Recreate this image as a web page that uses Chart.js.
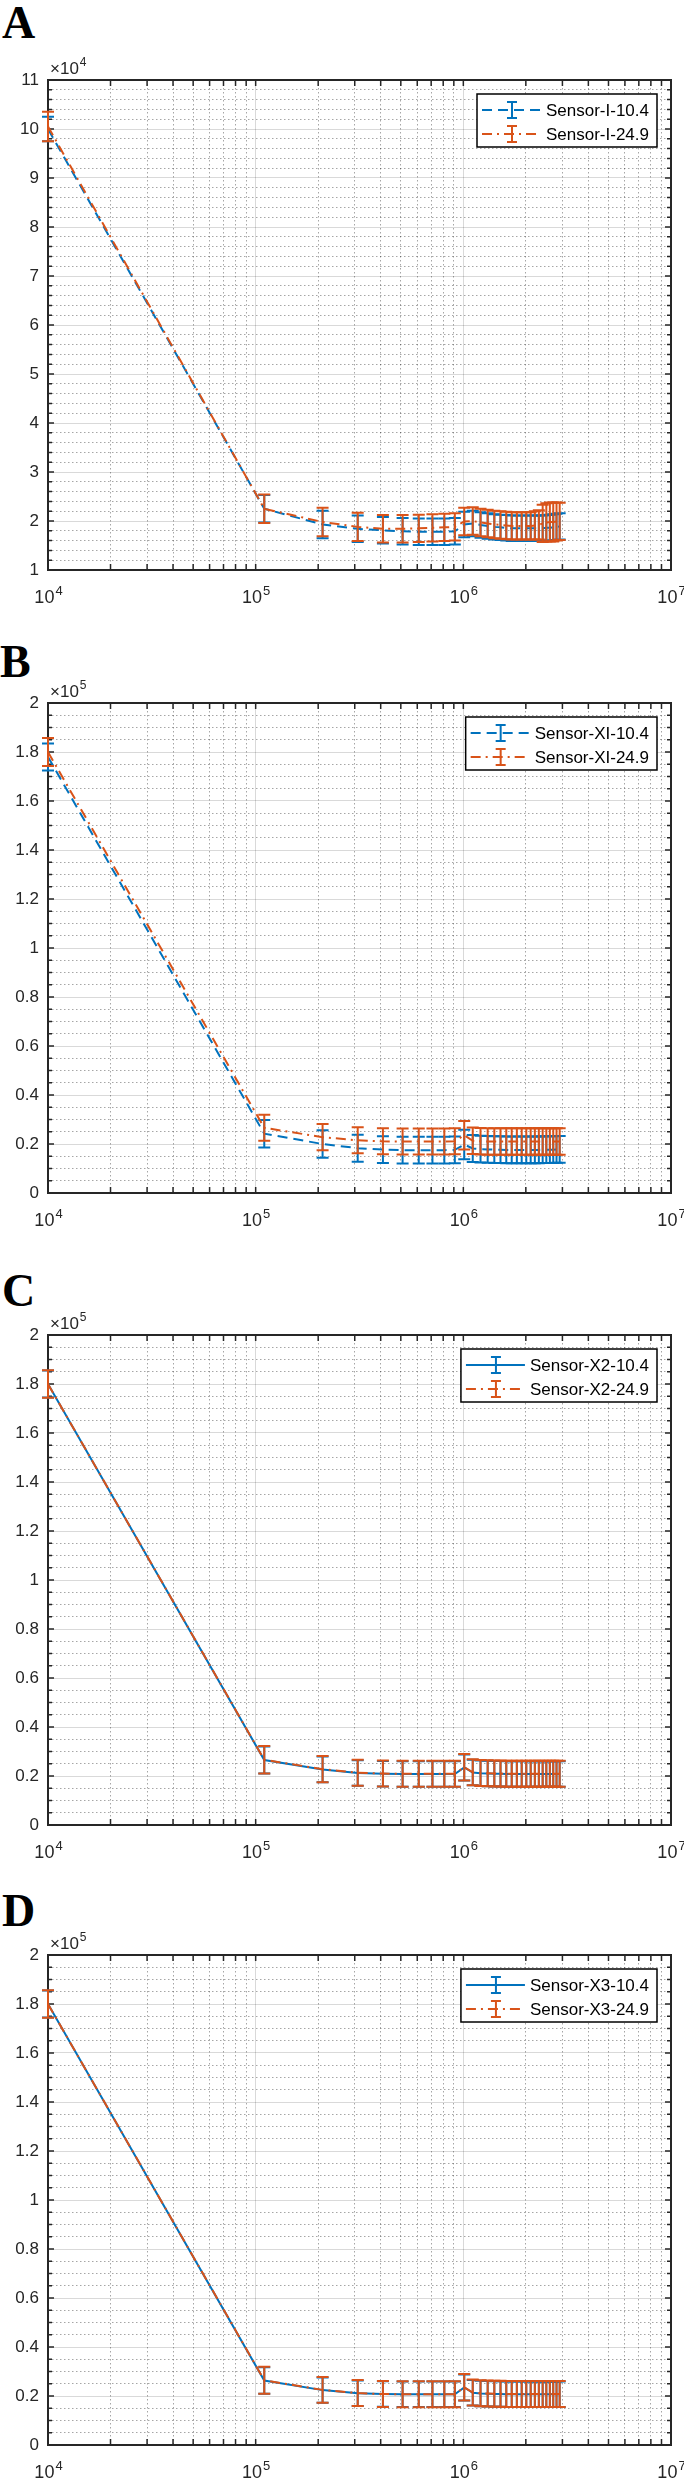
<!DOCTYPE html>
<html>
<head>
<meta charset="utf-8">
<script src="https://cdn.jsdelivr.net/npm/chart.js@4.4.1/dist/chart.umd.min.js"></script>
<style>
html, body { margin: 0; padding: 0; background: #fff; }
#page { position: relative; width: 684px; height: 2480px; overflow: hidden; }
.panel { position: absolute; left: 0; width: 684px; height: 620px; }
.letter { position: absolute; font: bold 46px "Liberation Serif", "Times New Roman", serif; line-height: 46px; color: #000; }
</style>
</head>
<body>
<div id="page">
  <div class="letter" style="top:0px;left:2px">A</div>
  <div class="panel" style="top:0px"><canvas id="chartA"></canvas></div>
  <div class="letter" style="top:639px;left:0px">B</div>
  <div class="panel" style="top:623px"><canvas id="chartB"></canvas></div>
  <div class="letter" style="top:1268px;left:2px">C</div>
  <div class="panel" style="top:1255px"><canvas id="chartC"></canvas></div>
  <div class="letter" style="top:1888px;left:2px">D</div>
  <div class="panel" style="top:1875px"><canvas id="chartD"></canvas></div>
</div>
<script>
// ======================================================
// DATA (x = sample count, y in units of the axis exponent)
// ======================================================
const xValues = [1e4, 1.1e5, 2.1e5, 3.1e5, 4.1e5, 5.1e5, 6.1e5, 7.1e5, 8.1e5, 9.1e5,
                 1.01e6, 1.11e6, 1.21e6, 1.31e6, 1.41e6, 1.51e6, 1.61e6, 1.71e6, 1.81e6, 1.91e6,
                 2.01e6, 2.11e6, 2.21e6, 2.31e6, 2.41e6, 2.51e6, 2.61e6, 2.71e6, 2.81e6, 2.91e6];

const xDecades   = [4, 5, 6, 7];          // 10^4 .. 10^7
const yTicksA    = [1, 2, 3, 4, 5, 6, 7, 8, 9, 10, 11];
const yTicksBCD  = [0, 0.2, 0.4, 0.6, 0.8, 1, 1.2, 1.4, 1.6, 1.8, 2];

// Panel A (x10^4)
const labelsA    = ["Sensor-I-10.4", "Sensor-I-24.9"];
const blueA      = [10.00, 2.25, 1.93, 1.84, 1.81, 1.79, 1.78, 1.78, 1.78, 1.79,
                    1.93, 1.95, 1.92, 1.90, 1.88, 1.87, 1.86, 1.85, 1.85, 1.85,
                    1.85, 1.85, 1.85, 1.85, 1.85, 1.86, 1.86, 1.87, 1.88, 1.89];
const blueErrA   = [0.25, 0.28, 0.28, 0.27, 0.27, 0.27, 0.27, 0.27, 0.27, 0.27,
                    0.26, 0.26, 0.26, 0.26, 0.26, 0.26, 0.26, 0.26, 0.26, 0.26,
                    0.26, 0.26, 0.26, 0.26, 0.26, 0.26, 0.27, 0.27, 0.27, 0.27];
const orangeA    = [10.05, 2.25, 1.98, 1.88, 1.84, 1.84, 1.85, 1.86, 1.87, 1.88,
                    1.99, 2.00, 1.97, 1.95, 1.93, 1.92, 1.91, 1.90, 1.90, 1.90,
                    1.90, 1.90, 1.91, 1.92, 1.95, 1.97, 1.98, 1.98, 1.99, 1.99];
const orangeErrA = [0.30, 0.29, 0.29, 0.29, 0.28, 0.28, 0.28, 0.28, 0.28, 0.28,
                    0.28, 0.28, 0.28, 0.28, 0.28, 0.28, 0.28, 0.28, 0.28, 0.28,
                    0.28, 0.28, 0.29, 0.30, 0.38, 0.39, 0.40, 0.40, 0.39, 0.38];

// Panel B (x10^5)
const labelsB    = ["Sensor-XI-10.4", "Sensor-XI-24.9"];
const blueB      = [1.78, 0.242, 0.200, 0.183, 0.177, 0.175, 0.175, 0.175, 0.175, 0.176,
                    0.198, 0.182, 0.179, 0.178, 0.177, 0.177, 0.176, 0.176, 0.176, 0.176,
                    0.176, 0.176, 0.176, 0.176, 0.177, 0.177, 0.177, 0.177, 0.178, 0.178];
const blueErrB   = [0.055, 0.056, 0.056, 0.055, 0.055, 0.055, 0.055, 0.055, 0.055, 0.055,
                    0.060, 0.055, 0.055, 0.055, 0.055, 0.055, 0.055, 0.055, 0.055, 0.055,
                    0.055, 0.055, 0.055, 0.055, 0.055, 0.055, 0.055, 0.055, 0.055, 0.055];
const orangeB    = [1.80, 0.266, 0.228, 0.215, 0.211, 0.210, 0.210, 0.210, 0.210, 0.211,
                    0.236, 0.213, 0.211, 0.210, 0.210, 0.210, 0.210, 0.210, 0.210, 0.210,
                    0.210, 0.210, 0.210, 0.210, 0.210, 0.210, 0.210, 0.210, 0.210, 0.210];
const orangeErrB = [0.057, 0.053, 0.054, 0.053, 0.053, 0.053, 0.053, 0.053, 0.053, 0.053,
                    0.058, 0.054, 0.054, 0.054, 0.054, 0.054, 0.054, 0.054, 0.054, 0.054,
                    0.054, 0.054, 0.054, 0.054, 0.054, 0.054, 0.054, 0.054, 0.054, 0.054];

// Panel C (x10^5)
const labelsC    = ["Sensor-X2-10.4", "Sensor-X2-24.9"];
const blueC      = [1.80, 0.265, 0.227, 0.212, 0.209, 0.208, 0.208, 0.208, 0.208, 0.208,
                    0.235, 0.214, 0.211, 0.210, 0.209, 0.209, 0.208, 0.208, 0.208, 0.208,
                    0.208, 0.208, 0.208, 0.208, 0.208, 0.208, 0.208, 0.208, 0.208, 0.208];
const blueErrC   = [0.055, 0.055, 0.053, 0.052, 0.052, 0.052, 0.052, 0.052, 0.052, 0.052,
                    0.053, 0.052, 0.052, 0.052, 0.052, 0.052, 0.052, 0.052, 0.052, 0.052,
                    0.052, 0.052, 0.052, 0.052, 0.052, 0.052, 0.052, 0.052, 0.052, 0.052];
const orangeC    = [1.80, 0.266, 0.228, 0.213, 0.210, 0.209, 0.209, 0.209, 0.209, 0.209,
                    0.236, 0.215, 0.212, 0.211, 0.210, 0.210, 0.209, 0.209, 0.209, 0.209,
                    0.209, 0.209, 0.209, 0.209, 0.209, 0.209, 0.209, 0.209, 0.209, 0.209];
const orangeErrC = [0.056, 0.056, 0.054, 0.053, 0.053, 0.053, 0.053, 0.053, 0.053, 0.053,
                    0.054, 0.053, 0.053, 0.053, 0.053, 0.053, 0.053, 0.053, 0.053, 0.053,
                    0.053, 0.053, 0.053, 0.053, 0.053, 0.053, 0.053, 0.053, 0.053, 0.053];

// Panel D (x10^5)
const labelsD    = ["Sensor-X3-10.4", "Sensor-X3-24.9"];
const blueD      = [1.80, 0.263, 0.224, 0.211, 0.208, 0.207, 0.207, 0.207, 0.207, 0.207,
                    0.235, 0.213, 0.210, 0.209, 0.208, 0.208, 0.207, 0.207, 0.207, 0.207,
                    0.207, 0.207, 0.207, 0.207, 0.207, 0.207, 0.207, 0.207, 0.207, 0.207];
const blueErrD   = [0.055, 0.054, 0.052, 0.052, 0.052, 0.052, 0.052, 0.052, 0.052, 0.052,
                    0.053, 0.052, 0.052, 0.052, 0.052, 0.052, 0.052, 0.052, 0.052, 0.052,
                    0.052, 0.052, 0.052, 0.052, 0.052, 0.052, 0.052, 0.052, 0.052, 0.052];
const orangeD    = [1.80, 0.264, 0.225, 0.212, 0.208, 0.207, 0.207, 0.207, 0.207, 0.207,
                    0.236, 0.214, 0.211, 0.210, 0.209, 0.209, 0.208, 0.208, 0.208, 0.208,
                    0.208, 0.208, 0.208, 0.208, 0.208, 0.208, 0.208, 0.208, 0.208, 0.208];
const orangeErrD = [0.056, 0.055, 0.053, 0.053, 0.053, 0.053, 0.053, 0.053, 0.053, 0.053,
                    0.054, 0.053, 0.053, 0.053, 0.053, 0.053, 0.053, 0.053, 0.053, 0.053,
                    0.053, 0.053, 0.053, 0.053, 0.053, 0.053, 0.053, 0.053, 0.053, 0.053];

// ── Styles ────────────────────────────────────────────
const BLUE    = '#0072BD';
const ORANGE  = '#D95319';
const AXIS    = '#262626';
const DASH    = [10, 6];
const DASHDOT = [10, 5, 2, 5];
const FONT    = '"Liberation Sans", Arial, Helvetica, sans-serif';

Chart.defaults.font.family = FONT;
Chart.defaults.color       = AXIS;

const isDecade = v => Math.abs(Math.log10(v) - Math.round(Math.log10(v))) < 1e-9;
const isMajorY = (v, majors) => majors.some(m => Math.abs(m - v) < 1e-9);

// "10" with a raised exponent, centred on x
function drawPower(ctx, x, baseline, exp, size, supSize, center) {
    ctx.font = size + 'px ' + FONT;
    const wb = ctx.measureText('10').width;
    ctx.font = supSize + 'px ' + FONT;
    const ws = ctx.measureText(String(exp)).width;
    const x0 = center ? x - (wb + ws) / 2 : x;
    ctx.font = size + 'px ' + FONT;
    ctx.fillText('10', x0, baseline);
    ctx.font = supSize + 'px ' + FONT;
    ctx.fillText(String(exp), x0 + wb + 1, baseline - size * 0.45);
}

// ======================================================
// PLUGINS
// ======================================================
const errorBarPlugin = {
    id: 'errorBars',
    afterDatasetDraw(chart, args) {
        const ds = chart.data.datasets[args.index];
        if (!ds.errors) return;
        const ctx = chart.ctx, xs = chart.scales.x, ys = chart.scales.y;
        ctx.save();
        ctx.strokeStyle = ds.borderColor;
        ctx.lineWidth = 2;
        ds.data.forEach((p, i) => {
            const e  = ds.errors[i];
            const px = xs.getPixelForValue(p.x);
            const y1 = ys.getPixelForValue(p.y - e);
            const y2 = ys.getPixelForValue(p.y + e);
            ctx.beginPath();
            ctx.moveTo(px, y1); ctx.lineTo(px, y2);
            ctx.moveTo(px - 6, y1); ctx.lineTo(px + 6, y1);
            ctx.moveTo(px - 6, y2); ctx.lineTo(px + 6, y2);
            ctx.stroke();
        });
        ctx.restore();
    }
};

const framePlugin = {
    id: 'frame',
    beforeDatasetsDraw(chart, args, opts) {
        const { left, right, top, bottom } = chart.chartArea;
        const ctx = chart.ctx, xs = chart.scales.x, ys = chart.scales.y;
        ctx.save();
        ctx.strokeStyle = AXIS;
        ctx.lineWidth = 1.5;
        ctx.beginPath();
        xs.ticks.forEach(t => {
            const px = xs.getPixelForValue(t.value);
            ctx.moveTo(px, bottom); ctx.lineTo(px, bottom - 6);
            ctx.moveTo(px, top);    ctx.lineTo(px, top + 6);
        });
        ys.ticks.forEach(t => {
            const py  = ys.getPixelForValue(t.value);
            const len = isMajorY(t.value, opts.majors) ? 6 : 4;
            ctx.moveTo(left, py);  ctx.lineTo(left + len, py);
            ctx.moveTo(right, py); ctx.lineTo(right - len, py);
        });
        ctx.stroke();
        ctx.lineWidth = 2;
        ctx.strokeRect(left, top, right - left, bottom - top);

        // decade labels under the x axis
        ctx.fillStyle = AXIS;
        ctx.textBaseline = 'alphabetic';
        xs.ticks.filter(t => isDecade(t.value)).forEach(t => {
            const px = xs.getPixelForValue(t.value);
            drawPower(ctx, px, bottom + 33, Math.round(Math.log10(t.value)), 18, 13, true);
        });
        ctx.restore();
    }
};

const legendPlugin = {
    id: 'boxLegend',
    afterDraw(chart, args, opts) {
        const { left, right, top } = chart.chartArea;
        const ctx = chart.ctx;
        const sets = chart.data.datasets;
        ctx.save();
        // exponent label above the y axis
        ctx.fillStyle = AXIS;
        ctx.textBaseline = 'alphabetic';
        ctx.font = '17px ' + FONT;
        ctx.fillText('×', left + 2, top - 6);
        const wx = ctx.measureText('×').width;
        drawPower(ctx, left + 2 + wx, top - 6, opts.exponent, 17, 12, false);

        // legend box
        ctx.font = '17px ' + FONT;
        const textW = Math.max(...sets.map(d => ctx.measureText(d.label).width));
        const boxR = right - 14, boxT = top + 14, boxH = 53;
        const boxL = boxR - (69 + textW + 8);
        ctx.fillStyle = '#fff';
        ctx.fillRect(boxL, boxT, boxR - boxL, boxH);
        ctx.strokeStyle = '#000';
        ctx.lineWidth = 1.5;
        ctx.strokeRect(boxL, boxT, boxR - boxL, boxH);
        sets.forEach((d, i) => {
            const y = boxT + 16 + i * 24;
            ctx.strokeStyle = d.borderColor;
            ctx.lineWidth = 2;
            ctx.setLineDash(d.borderDash || []);
            ctx.beginPath();
            ctx.moveTo(boxL + 5, y); ctx.lineTo(boxL + 64, y);
            ctx.stroke();
            ctx.setLineDash([]);
            const cx = boxL + 35;
            ctx.beginPath();
            ctx.moveTo(cx, y - 8); ctx.lineTo(cx, y + 8);
            ctx.moveTo(cx - 5, y - 8); ctx.lineTo(cx + 5, y - 8);
            ctx.moveTo(cx - 5, y + 8); ctx.lineTo(cx + 5, y + 8);
            ctx.stroke();
            ctx.fillStyle = '#000';
            ctx.textBaseline = 'middle';
            ctx.fillText(d.label, boxL + 69, y + 1);
        });
        ctx.restore();
    }
};

// ======================================================
// PANEL BUILDER
// ======================================================
function toPoints(ys) {
    return xValues.map((x, i) => ({ x: x, y: ys[i] }));
}

function makePanel(id, p) {
    const yMin = p.yTicks[0], yMax = p.yTicks[p.yTicks.length - 1];
    new Chart(document.getElementById(id), {
        type: 'line',
        data: {
            datasets: [{
                label: p.labels[0],
                data: toPoints(p.blue),
                errors: p.blueErr,
                borderColor: BLUE,
                borderWidth: 2,
                borderDash: p.blueDash,
                pointRadius: 0,
                tension: 0,
                fill: false,
                order: 1
            }, {
                label: p.labels[1],
                data: toPoints(p.orange),
                errors: p.orangeErr,
                borderColor: ORANGE,
                borderWidth: 2,
                borderDash: DASHDOT,
                pointRadius: 0,
                tension: 0,
                fill: false,
                order: 0
            }]
        },
        options: {
            responsive: true,
            maintainAspectRatio: false,
            animation: false,
            events: [],
            layout: { padding: { top: 80, right: 13, bottom: 0, left: 0 } },
            plugins: {
                legend: { display: false },
                tooltip: { enabled: false },
                frame: { majors: p.yTicks },
                boxLegend: { exponent: p.exponent }
            },
            scales: {
                x: {
                    type: 'logarithmic',
                    min: 1e4,
                    max: 1e7,
                    afterBuildTicks: scale => {
                        const t = [];
                        xDecades.forEach((d, k) => {
                            if (k === xDecades.length - 1) { t.push({ value: Math.pow(10, d) }); return; }
                            for (let m = 1; m <= 9; m++) t.push({ value: m * Math.pow(10, d) });
                        });
                        scale.ticks = t;
                    },
                    afterFit: scale => { scale.height = 50; scale.paddingLeft = 0; scale.paddingRight = 0; },
                    ticks: { display: false, autoSkip: false, maxRotation: 0 },
                    grid: {
                        drawTicks: false,
                        lineWidth: 1,
                        color: ctx => ctx.tick && isDecade(ctx.tick.value) ? 'rgba(0,0,0,0.15)' : 'rgba(0,0,0,0.35)'
                    },
                    border: {
                        display: false,
                        dash: ctx => ctx.tick && isDecade(ctx.tick.value) ? [] : [1.5, 2.5]
                    }
                },
                y: {
                    type: 'linear',
                    min: yMin,
                    max: yMax,
                    afterBuildTicks: scale => {
                        const t = [];
                        const n = Math.round((yMax - yMin) / p.yMinor);
                        for (let k = 0; k <= n; k++) t.push({ value: +(yMin + k * p.yMinor).toFixed(6) });
                        scale.ticks = t;
                    },
                    afterFit: scale => { scale.width = 48; scale.paddingTop = 0; scale.paddingBottom = 0; },
                    ticks: {
                        autoSkip: false,
                        padding: 9,
                        font: { size: 17 },
                        color: AXIS,
                        callback: v => isMajorY(v, p.yTicks) ? String(+v.toFixed(1)) : ''
                    },
                    grid: {
                        drawTicks: false,
                        lineWidth: 1,
                        color: ctx => ctx.tick && isMajorY(ctx.tick.value, p.yTicks) ? 'rgba(0,0,0,0.15)' : 'rgba(0,0,0,0.35)'
                    },
                    border: {
                        display: false,
                        dash: ctx => ctx.tick && isMajorY(ctx.tick.value, p.yTicks) ? [] : [1.5, 2.5]
                    }
                }
            }
        },
        plugins: [errorBarPlugin, framePlugin, legendPlugin]
    });
}

// ======================================================
// DRAW
// ======================================================
makePanel('chartA', { labels: labelsA, blue: blueA, blueErr: blueErrA, orange: orangeA, orangeErr: orangeErrA,
                      blueDash: DASH, yTicks: yTicksA, yMinor: 0.2, exponent: 4 });
makePanel('chartB', { labels: labelsB, blue: blueB, blueErr: blueErrB, orange: orangeB, orangeErr: orangeErrB,
                      blueDash: DASH, yTicks: yTicksBCD, yMinor: 0.05, exponent: 5 });
makePanel('chartC', { labels: labelsC, blue: blueC, blueErr: blueErrC, orange: orangeC, orangeErr: orangeErrC,
                      blueDash: [], yTicks: yTicksBCD, yMinor: 0.05, exponent: 5 });
makePanel('chartD', { labels: labelsD, blue: blueD, blueErr: blueErrD, orange: orangeD, orangeErr: orangeErrD,
                      blueDash: [], yTicks: yTicksBCD, yMinor: 0.05, exponent: 5 });
</script>
</body>
</html>
